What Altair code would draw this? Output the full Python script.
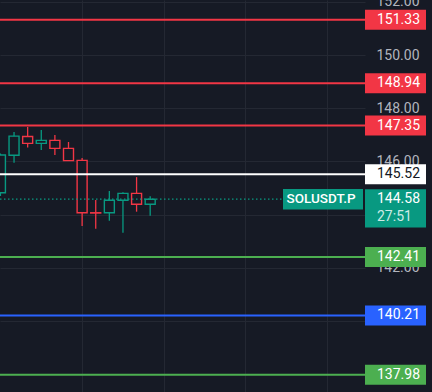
import altair as alt
import pandas as pd

# ---- data ----
candle_idx = [0, 1, 2, 3, 4, 5, 6, 7, 8, 9, 10, 11]
opens  = [144.82, 146.23, 146.94, 146.68, 146.79, 146.49, 146.04, 144.07, 144.07, 144.54, 144.80, 144.39]
highs  = [146.30, 147.11, 147.29, 147.18, 146.99, 146.73, 146.13, 144.55, 144.89, 144.84, 145.41, 144.69]
lows   = [144.70, 145.95, 146.52, 146.43, 146.24, 146.03, 143.57, 143.47, 143.77, 143.32, 144.11, 143.96]
closes = [146.24, 146.95, 146.68, 146.79, 146.49, 146.03, 144.07, 144.06, 144.54, 144.80, 144.39, 144.58]

level_prices = [151.33, 148.94, 147.35, 145.52, 142.41, 140.21, 137.98]
level_kinds  = ["target", "target", "target", "entry", "support", "stop", "support"]

tick_values = [138, 140, 142, 144, 146, 148, 150, 152]
grid_candles = [6, 12, 18, 24]

symbol = "SOLUSDT.P"
last_price = 144.58
countdown = "27:51"

# ---- styling ----
BG = "#161a25"
GRID = "#242833"
RED = "#f23645"
TEAL = "#089981"
FONT = "Roboto"
Y_DOMAIN = [137.33, 152.07]
X_DOMAIN = [0.336, 26.41]
PLOT_W = 365

kind_dom = ["target", "entry", "support", "stop"]
kind_rng = [RED, "#ffffff", "#4caf50", "#2962ff"]
kind_txt = ["#ffffff", "#131722", "#ffffff", "#ffffff"]

candles = pd.DataFrame({"i": candle_idx, "open": opens, "high": highs,
                        "low": lows, "close": closes})
candles["dir"] = ["up" if c >= o else "down" for o, c in zip(opens, closes)]
levels = pd.DataFrame({"price": level_prices, "kind": level_kinds})
last = pd.DataFrame({"price": [last_price], "sym": [symbol], "cd": [countdown]})

y_axis = alt.Axis(orient="right", values=tick_values, format=".2f", labelAlign="left",
                  labelBaseline="middle", labelPadding=11, ticks=False, domain=False,
                  title=None, labelColor="#b2b5be", labelFontSize=14, labelFont=FONT,
                  gridColor=GRID, gridWidth=1, labelOverlap=False)
x_axis = alt.Axis(values=grid_candles, grid=True, labels=False, ticks=False,
                  domain=False, title=None, gridColor=GRID, gridWidth=1)


def yq(field):
    return alt.Y(f"{field}:Q", scale=alt.Scale(domain=Y_DOMAIN, nice=False, zero=False),
                 axis=y_axis)


x_enc = alt.X("i:Q", scale=alt.Scale(domain=X_DOMAIN, nice=False, zero=False), axis=x_axis)
dir_scale = alt.Scale(domain=["up", "down"], range=[TEAL, RED])

wicks = alt.Chart(candles).mark_rule(strokeWidth=1.3).encode(
    x=x_enc, y=yq("low"), y2="high:Q",
    color=alt.Color("dir:N", scale=dir_scale, legend=None))

bodies = alt.Chart(candles).mark_bar(size=10, fill=BG, strokeWidth=1.4).encode(
    x=x_enc, y=yq("open"), y2="close:Q",
    stroke=alt.Stroke("dir:N", scale=dir_scale, legend=None))

dotted = alt.Chart(last).mark_rule(color=TEAL, strokeWidth=1.3, strokeDash=[1.5, 2.5]).encode(
    y=yq("price"), x=alt.value(0), x2=alt.value(283))

level_lines = alt.Chart(levels).mark_rule(strokeWidth=2).encode(
    y=yq("price"), x=alt.value(0), x2=alt.value(PLOT_W),
    color=alt.Color("kind:N", scale=alt.Scale(domain=kind_dom, range=kind_rng), legend=None))

level_boxes = alt.Chart(levels).mark_rule(strokeWidth=20, strokeCap="butt").encode(
    y=yq("price"), x=alt.value(365), x2=alt.value(426),
    color=alt.Color("kind:N", scale=alt.Scale(domain=kind_dom, range=kind_rng), legend=None))

level_text = alt.Chart(levels).mark_text(align="left", baseline="middle", font=FONT,
                                         fontSize=14).encode(
    y=yq("price"), x=alt.value(377), text=alt.Text("price:Q", format=".2f"),
    fill=alt.Fill("kind:N", scale=alt.Scale(domain=kind_dom, range=kind_txt), legend=None))

sym_box = alt.Chart(last).mark_rule(strokeWidth=20.5, strokeCap="butt", color=TEAL).encode(
    y=yq("price"), x=alt.value(283), x2=alt.value(363))
sym_text = alt.Chart(last).mark_text(align="left", baseline="middle", font=FONT, fontSize=13.5,
                                     color="#ffffff", fontWeight=500).encode(
    y=yq("price"), x=alt.value(286.5), text="sym:N")

price_box = alt.Chart(last).mark_rule(strokeWidth=38.4, strokeCap="butt", color=TEAL,
                                      yOffset=9.2).encode(
    y=yq("price"), x=alt.value(365), x2=alt.value(426))
price_text = alt.Chart(last).mark_text(align="left", baseline="middle", font=FONT, fontSize=14,
                                       color="#ffffff").encode(
    y=yq("price"), x=alt.value(377), text=alt.Text("price:Q", format=".2f"))
cd_text = alt.Chart(last).mark_text(align="left", baseline="middle", font=FONT, fontSize=14,
                                    color="#cdebe6", yOffset=17.5).encode(
    y=yq("price"), x=alt.value(377), text="cd:N")

chart = alt.layer(
    wicks, bodies, dotted, level_lines, level_boxes, level_text,
    sym_box, sym_text, price_box, price_text, cd_text
).resolve_scale(
    color="independent", stroke="independent", fill="independent"
).properties(
    width=PLOT_W, height=392,
    autosize=alt.AutoSizeParams(type="none"),
    padding={"left": 0, "top": 0, "right": 67, "bottom": 0},
    background=BG,
).configure_view(stroke=None, fill=BG)

chart.save("out.html", embed_options={"renderer": "svg", "actions": False})
